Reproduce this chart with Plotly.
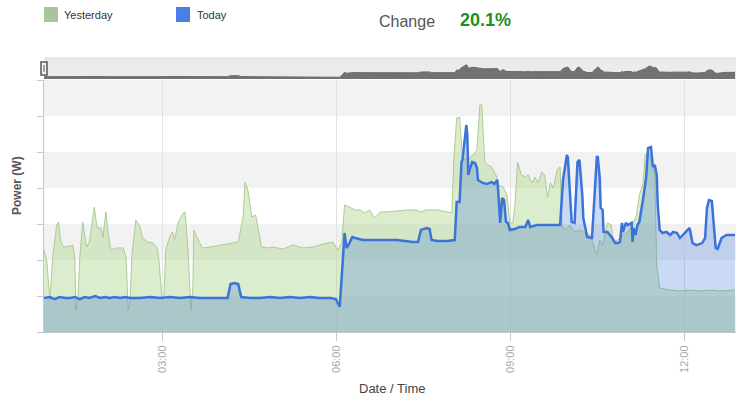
import pandas as pd
import plotly.graph_objects as go

# ---- data (minutes after midnight, power in W) ----
yesterday_min = [57, 60, 63, 66, 70, 72, 74, 77, 84, 87, 89, 90, 92, 94, 97, 101, 104, 109, 112, 116,
                 118, 121, 123, 126, 132, 139, 142, 144, 146, 148, 152, 156, 159, 164, 170, 174, 176, 179,
                 181, 183, 187, 190, 192, 196, 201, 203, 206, 208, 209, 211, 212, 215, 218, 221, 229, 239,
                 249, 258, 263, 265, 268, 272, 276, 279, 282, 288, 294, 304, 315, 325, 335, 346, 356, 361,
                 365, 368, 374, 379, 384, 389, 394, 399, 405, 412, 422, 432, 443, 446, 453, 464, 474, 479,
                 481, 484, 487, 490, 495, 501, 505, 508, 510, 513, 516, 520, 523, 526, 527, 532, 536, 539,
                 542, 544, 547, 551, 555, 558, 562, 565, 568, 572, 575, 578, 581, 584, 588, 591, 593, 596,
                 601, 606, 611, 617, 622, 629, 632, 635, 640, 644, 646, 651, 656, 661, 666, 670, 673, 677,
                 679, 682, 685, 689, 691, 694, 705, 715, 725, 736, 746, 756, 772]
yesterday_w = [456, 389, 178, 411, 589, 611, 511, 472, 478, 483, 400, 122, 178, 411, 611, 472, 500, 694, 578, 578,
               528, 667, 567, 456, 467, 467, 411, 122, 178, 428, 622, 589, 522, 500, 494, 467, 400, 178,
               194, 456, 528, 556, 511, 611, 661, 667, 456, 233, 122, 233, 567, 528, 494, 467, 472, 483,
               494, 500, 639, 833, 789, 639, 650, 550, 472, 467, 472, 461, 483, 467, 472, 489, 500, 456,
               494, 706, 689, 678, 678, 661, 678, 633, 667, 667, 672, 678, 678, 667, 678, 678, 667, 661,
               956, 1189, 1194, 967, 956, 983, 1011, 1261, 1261, 944, 928, 917, 889, 856, 817, 806, 761, 606,
               606, 689, 944, 872, 861, 872, 828, 861, 828, 889, 872, 750, 828, 800, 900, 917, 594, 567,
               594, 556, 567, 550, 539, 428, 511, 483, 606, 594, 500, 511, 539, 556, 594, 650, 761, 828,
               983, 1000, 956, 872, 372, 244, 233, 228, 233, 228, 233, 228, 233]

today_min = [57, 63, 68, 73, 79, 84, 89, 94, 99, 104, 110, 115, 120, 125, 130, 136, 141, 146, 156, 167,
             177, 187, 198, 208, 218, 229, 239, 247, 250, 254, 258, 261, 270, 280, 291, 301, 311, 322, 332,
             342, 353, 359, 363, 366, 368, 370, 372, 376, 379, 387, 405, 422, 439, 444, 447, 453, 456, 458,
             464, 474, 482, 484, 487, 489, 490, 494, 495, 496, 498, 500, 503, 505, 506, 511, 515, 520, 523,
             526, 527, 529, 531, 533, 535, 537, 539, 544, 549, 555, 558, 560, 567, 577, 588, 591, 594, 598,
             599, 601, 603, 606, 609, 611, 614, 615, 619, 624, 625, 629, 630, 632, 633, 635, 636, 640, 645,
             648, 651, 653, 655, 656, 659, 661, 665, 666, 667, 669, 671, 673, 677, 680, 682, 685, 687, 689,
             691, 692, 694, 697, 701, 705, 708, 712, 715, 718, 722, 725, 728, 732, 738, 741, 743, 745, 748,
             750, 752, 754, 758, 763, 772]
today_w = [189, 194, 183, 194, 189, 189, 194, 183, 194, 189, 200, 189, 194, 189, 194, 189, 194, 189, 189, 194,
           189, 194, 189, 194, 189, 189, 189, 189, 267, 272, 267, 194, 189, 189, 194, 189, 194, 189, 194,
           189, 189, 183, 139, 356, 550, 467, 483, 528, 522, 511, 511, 511, 500, 500, 567, 578, 572, 511,
           506, 506, 511, 722, 722, 944, 956, 1150, 1094, 872, 911, 944, 939, 911, 844, 828, 822, 833, 822,
           844, 778, 606, 744, 733, 611, 606, 567, 572, 583, 583, 622, 583, 594, 594, 594, 594, 844, 983,
           972, 761, 611, 606, 944, 956, 761, 633, 528, 522, 611, 972, 972, 856, 689, 678, 556, 556, 522,
           494, 494, 500, 606, 556, 606, 594, 606, 500, 578, 539, 594, 611, 744, 856, 1022, 1028, 917, 928,
           872, 706, 567, 550, 556, 539, 556, 550, 522, 539, 556, 578, 494, 483, 494, 522, 689, 733, 728,
           578, 467, 461, 522, 539, 539]

tick_labels = ["03:00", "06:00", "09:00", "12:00"]
day = pd.Timestamp("2014-01-01")

def to_time(mins):
    return day + pd.to_timedelta(mins, unit="m")

yx = to_time(yesterday_min)
tx = to_time(today_min)
tick_vals = [day + pd.Timedelta(t + ":00") for t in tick_labels]

# ---- layout geometry helpers (pixels -> paper) ----
L, R, T, B, W, H = 44, 6, 58, 68, 742, 400
PW, PH = W - L - R, H - T - B
def px(x):
    return (x - L) / PW
def py(y):
    return (H - B - y) / PH

fig = go.Figure()

fig.add_trace(go.Scatter(
    x=yx, y=yesterday_w, name="Yesterday", mode="lines", fill="tozeroy",
    fillcolor="rgba(176,214,145,0.45)", line=dict(color="rgba(165,198,140,0.9)", width=1),
    xaxis="x", yaxis="y"))
fig.add_trace(go.Scatter(
    x=tx, y=today_w, name="Today", mode="lines", fill="tozeroy",
    fillcolor="rgba(60,120,216,0.27)", line=dict(color="#3b73da", width=2.5),
    xaxis="x", yaxis="y"))
# navigator
fig.add_trace(go.Scatter(
    x=tx, y=today_w, mode="lines", fill="tozeroy", fillcolor="#727272",
    line=dict(color="#6a6a6a", width=1), xaxis="x2", yaxis="y2", showlegend=False))

xr = [day + pd.Timedelta(minutes=57), day + pd.Timedelta(minutes=773)]
main_top = py(80)
nav_bot, nav_top = py(79), py(58)

shapes = []
# alternating horizontal bands
for lo in [0, 400, 800, 1200]:
    shapes.append(dict(type="rect", xref="x domain", yref="y", x0=0, x1=1, y0=lo, y1=lo + 200,
                       fillcolor="#f2f2f2", line=dict(width=0), layer="below"))
# navigator background
shapes.append(dict(type="rect", xref="paper", yref="paper", x0=0, x1=1, y0=nav_bot, y1=nav_top,
                   fillcolor="#ebebeb", line=dict(width=0), layer="below"))
shapes.append(dict(type="line", xref="paper", yref="paper", x0=0, x1=1, y0=nav_top, y1=nav_top,
                   line=dict(color="#d8d8d8", width=1)))
# navigator handle
shapes.append(dict(type="rect", xref="paper", yref="paper", x0=px(41), x1=px(47), y0=py(75), y1=py(62),
                   fillcolor="#f4f4f4", line=dict(color="#555", width=1.5)))
shapes.append(dict(type="line", xref="paper", yref="paper", x0=px(44), x1=px(44), y0=py(72), y1=py(65),
                   line=dict(color="#555", width=1)))
# legend squares
shapes.append(dict(type="rect", xref="paper", yref="paper", x0=px(44), x1=px(58), y0=py(22), y1=py(7),
                   fillcolor="#a8c49c", line=dict(width=0)))
shapes.append(dict(type="rect", xref="paper", yref="paper", x0=px(176), x1=px(190), y0=py(22), y1=py(7),
                   fillcolor="#4a7fe6", line=dict(width=0)))

narrow = "Liberation Sans Narrow, Arial Narrow, Liberation Sans, Arial"
annotations = [
    dict(text="Yesterday", xref="paper", yref="paper", x=px(62), y=py(15), xanchor="left", yanchor="middle",
         showarrow=False, font=dict(family=narrow, size=11, color="#333")),
    dict(text="Today", xref="paper", yref="paper", x=px(195), y=py(15), xanchor="left", yanchor="middle",
         showarrow=False, font=dict(family=narrow, size=11, color="#333")),
    dict(text="Change", xref="paper", yref="paper", x=px(437), y=py(21), xanchor="right", yanchor="middle",
         showarrow=False, font=dict(family=narrow, size=16, color="#555")),
    dict(text="<b>20.1%</b>", xref="paper", yref="paper", x=px(458), y=py(20), xanchor="left", yanchor="middle",
         showarrow=False, font=dict(family="Liberation Sans, Arial", size=18, color="#1f8f1f")),
    dict(text="<b>Power (W)</b>", xref="paper", yref="paper", x=px(17), y=py(186), xanchor="center",
         yanchor="middle", textangle=-90, showarrow=False,
         font=dict(family="Liberation Sans, Arial", size=12, color="#555")),
    dict(text="Date / Time", xref="paper", yref="paper", x=px(392), y=py(388), xanchor="center",
         yanchor="middle", showarrow=False, font=dict(family=narrow, size=13, color="#444")),
]

fig.update_layout(
    width=W, height=H, margin=dict(l=L, r=R, t=T, b=B),
    paper_bgcolor="white", plot_bgcolor="white", showlegend=False,
    shapes=shapes, annotations=annotations,
    xaxis=dict(type="date", range=xr, domain=[0, 1], anchor="y",
               tickvals=tick_vals, ticktext=tick_labels, tickangle=-90,
               tickfont=dict(family="Liberation Sans, Arial", size=11, color="#aaa"),
               showgrid=True, gridcolor="#e2e2e2", gridwidth=1,
               ticks="outside", ticklen=8, tickcolor="#c8c8c8",
               showline=True, linecolor="#c0c8cc", zeroline=False),
    yaxis=dict(domain=[0, main_top], range=[0, 1400], dtick=200, anchor="x",
               showticklabels=False, ticks="outside", ticklen=6, tickcolor="#c8c8c8",
               showgrid=False, showline=True, linecolor="#c8c8c8", zeroline=False),
    xaxis2=dict(type="date", range=xr, anchor="y2", matches="x", visible=False, showgrid=False),
    yaxis2=dict(domain=[nav_bot, nav_top], range=[0, 1700], anchor="x2", visible=False,
                showgrid=False, zeroline=False),
)

fig.write_html("out.html", config={"displayModeBar": False},
               post_script="document.body.style.margin='0';document.body.style.overflow='hidden';")
